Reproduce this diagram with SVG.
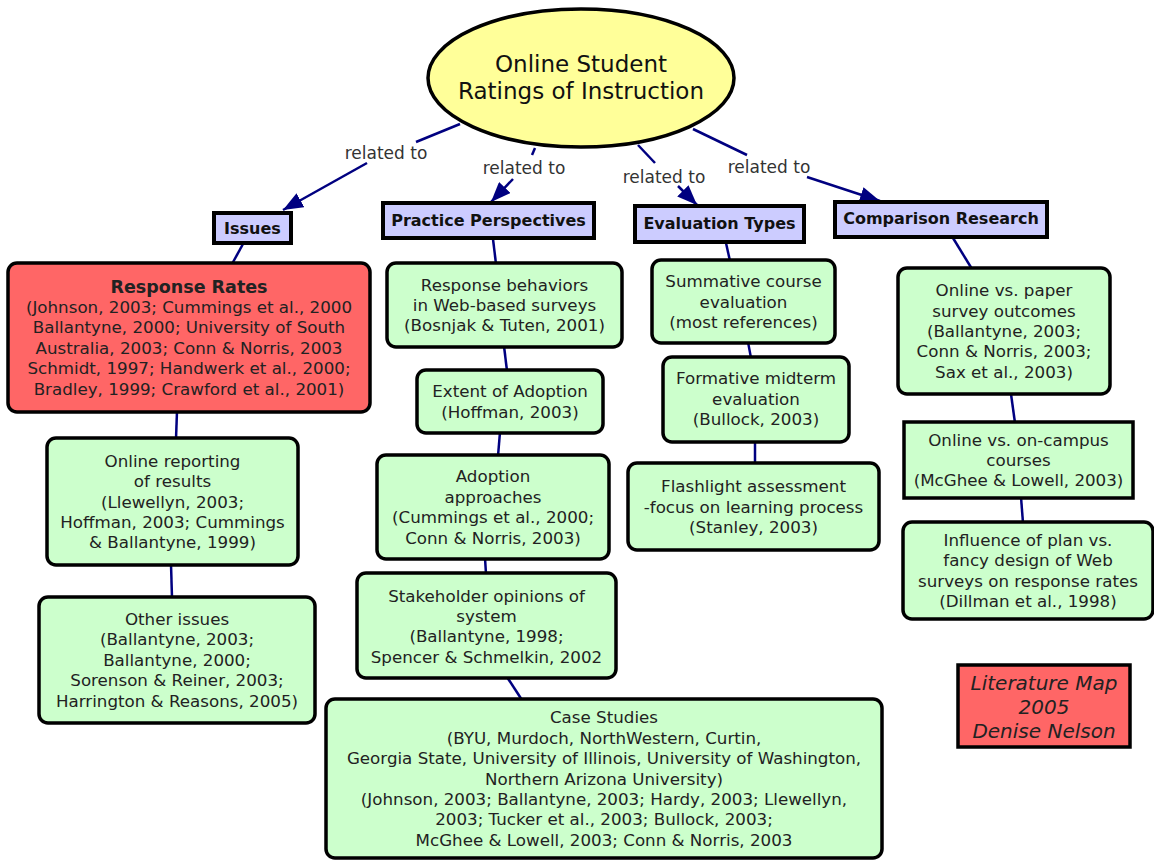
<svg xmlns="http://www.w3.org/2000/svg" width="1154" height="861" viewBox="0 0 1154 861">
<style>
text{font-family:"DejaVu Sans",Verdana,sans-serif;fill:#222;text-anchor:middle}
.t{font-size:16.7px}
.lbl{font-size:17px;fill:#333}
.hd{font-size:16px;font-weight:bold;fill:#111}
.ttl{font-size:23px;fill:#111}
.rrh{font-size:17.5px;font-weight:bold}
.lit{font-size:20px;font-style:italic}
.cn{stroke:#000080;stroke-width:2.5;fill:none}
.g{fill:#ccffcc;stroke:#000;stroke-width:3.5}
.r{fill:#ff6666;stroke:#000;stroke-width:3.5}
.b{fill:#ccccff;stroke:#000;stroke-width:4}
</style>
<defs>
<marker id="ah" markerUnits="userSpaceOnUse" markerWidth="20" markerHeight="16" refX="20" refY="8" orient="auto">
<path d="M0,0 L20,8 L0,16 z" fill="#000080"/>
</marker>
</defs>
<rect width="1154" height="861" fill="#fff"/>
<g id="connectors">
<line class="cn" x1="460" y1="124" x2="416" y2="142"/>
<line class="cn" x1="367" y1="163" x2="283" y2="210" marker-end="url(#ah)"/>
<text class="lbl" x="386" y="159">related to</text>
<line class="cn" x1="535" y1="148" x2="532" y2="155"/>
<line class="cn" x1="513" y1="179" x2="491" y2="202" marker-end="url(#ah)"/>
<text class="lbl" x="524" y="174">related to</text>
<line class="cn" x1="638" y1="145" x2="655" y2="163"/>
<line class="cn" x1="678" y1="186" x2="697" y2="205" marker-end="url(#ah)"/>
<text class="lbl" x="664" y="183">related to</text>
<line class="cn" x1="693" y1="129" x2="747" y2="155"/>
<line class="cn" x1="807" y1="177" x2="880" y2="201" marker-end="url(#ah)"/>
<text class="lbl" x="769" y="173">related to</text>
<line class="cn" x1="243" y1="244" x2="232" y2="264"/>
<line class="cn" x1="493" y1="239" x2="496" y2="264"/>
<line class="cn" x1="726" y1="243" x2="730" y2="261"/>
<line class="cn" x1="953" y1="238" x2="972" y2="269"/>
<line class="cn" x1="177" y1="411" x2="176" y2="439"/>
<line class="cn" x1="171" y1="564" x2="172" y2="598"/>
<line class="cn" x1="504" y1="346" x2="507" y2="371"/>
<line class="cn" x1="500" y1="432" x2="498" y2="456"/>
<line class="cn" x1="485" y1="558" x2="486" y2="574"/>
<line class="cn" x1="507" y1="677" x2="522" y2="700"/>
<line class="cn" x1="748" y1="342" x2="751" y2="358"/>
<line class="cn" x1="755" y1="441" x2="755" y2="464"/>
<line class="cn" x1="1011" y1="394" x2="1015" y2="423"/>
<line class="cn" x1="1021" y1="497" x2="1023" y2="523"/>
</g>
<g id="n-root">
<ellipse cx="581" cy="78" rx="153" ry="69" fill="#ffff99" stroke="#000" stroke-width="3.5"/>
<text class="ttl" x="581" y="71.5">Online Student</text>
<text class="ttl" x="581" y="98.5">Ratings of Instruction</text>
</g>
<g id="n-issues">
<rect class="b" x="214" y="213" width="77" height="30"/>
<text class="hd" x="252.5" y="234">Issues</text>
</g>
<g id="n-practice">
<rect class="b" x="383" y="203" width="211" height="35"/>
<text class="hd" x="488.5" y="226">Practice Perspectives</text>
</g>
<g id="n-evaluation">
<rect class="b" x="635" y="206" width="169" height="36"/>
<text class="hd" x="719.5" y="229">Evaluation Types</text>
</g>
<g id="n-comparison">
<rect class="b" x="835" y="202" width="212" height="35"/>
<text class="hd" x="941" y="224">Comparison Research</text>
</g>
<g id="n-response-rates">
<rect class="r" x="8" y="263" width="362" height="149" rx="9"/>
<text class="rrh" x="189" y="292.5">Response Rates</text>
<text class="t" x="189" y="312.9">(Johnson, 2003; Cummings et al., 2000</text>
<text class="t" x="189" y="333.3">Ballantyne, 2000; University of South</text>
<text class="t" x="189" y="353.7">Australia, 2003; Conn &amp; Norris, 2003</text>
<text class="t" x="189" y="374.1">Schmidt, 1997; Handwerk et al., 2000;</text>
<text class="t" x="189" y="394.5">Bradley, 1999; Crawford et al., 2001)</text>
</g>
<g id="n-online-reporting">
<rect class="g" x="47" y="438" width="251" height="127" rx="9"/>
<text class="t" x="172.5" y="466.7">Online reporting</text>
<text class="t" x="172.5" y="487.1">of results</text>
<text class="t" x="172.5" y="507.5">(Llewellyn, 2003;</text>
<text class="t" x="172.5" y="527.9">Hoffman, 2003; Cummings</text>
<text class="t" x="172.5" y="548.3">&amp; Ballantyne, 1999)</text>
</g>
<g id="n-other-issues">
<rect class="g" x="39" y="597" width="276" height="126" rx="9"/>
<text class="t" x="177" y="625">Other issues</text>
<text class="t" x="177" y="645.4">(Ballantyne, 2003;</text>
<text class="t" x="177" y="665.8">Ballantyne, 2000;</text>
<text class="t" x="177" y="686.2">Sorenson &amp; Reiner, 2003;</text>
<text class="t" x="177" y="706.6">Harrington &amp; Reasons, 2005)</text>
</g>
<g id="n-response-behaviors">
<rect class="g" x="387" y="263" width="235" height="84" rx="9"/>
<text class="t" x="504.5" y="290.6">Response behaviors</text>
<text class="t" x="504.5" y="311">in Web-based surveys</text>
<text class="t" x="504.5" y="331.4">(Bosnjak &amp; Tuten, 2001)</text>
</g>
<g id="n-extent">
<rect class="g" x="417" y="370" width="186" height="63" rx="9"/>
<text class="t" x="510" y="397.3">Extent of Adoption</text>
<text class="t" x="510" y="417.7">(Hoffman, 2003)</text>
</g>
<g id="n-adoption">
<rect class="g" x="377" y="455" width="232" height="104" rx="9"/>
<text class="t" x="493" y="482.4">Adoption</text>
<text class="t" x="493" y="502.8">approaches</text>
<text class="t" x="493" y="523.2">(Cummings et al., 2000;</text>
<text class="t" x="493" y="543.6">Conn &amp; Norris, 2003)</text>
</g>
<g id="n-stakeholder">
<rect class="g" x="357" y="573" width="259" height="105" rx="9"/>
<text class="t" x="486.5" y="601.5">Stakeholder opinions of</text>
<text class="t" x="486.5" y="621.9">system</text>
<text class="t" x="486.5" y="642.3">(Ballantyne, 1998;</text>
<text class="t" x="486.5" y="662.7">Spencer &amp; Schmelkin, 2002</text>
</g>
<g id="n-case-studies">
<rect class="g" x="326" y="699" width="556" height="159" rx="9"/>
<text class="t" x="604" y="723.3">Case Studies</text>
<text class="t" x="604" y="743.7">(BYU, Murdoch, NorthWestern, Curtin,</text>
<text class="t" x="604" y="764.1">Georgia State, University of Illinois, University of Washington,</text>
<text class="t" x="604" y="784.5">Northern Arizona University)</text>
<text class="t" x="604" y="804.9">(Johnson, 2003; Ballantyne, 2003; Hardy, 2003; Llewellyn,</text>
<text class="t" x="604" y="825.3">2003; Tucker et al., 2003; Bullock, 2003;</text>
<text class="t" x="604" y="845.7">McGhee &amp; Lowell, 2003; Conn &amp; Norris, 2003</text>
</g>
<g id="n-summative">
<rect class="g" x="652" y="260" width="183" height="83" rx="9"/>
<text class="t" x="743.5" y="287.1">Summative course</text>
<text class="t" x="743.5" y="307.5">evaluation</text>
<text class="t" x="743.5" y="327.9">(most references)</text>
</g>
<g id="n-formative">
<rect class="g" x="663" y="357" width="186" height="85" rx="9"/>
<text class="t" x="756" y="384.1">Formative midterm</text>
<text class="t" x="756" y="404.5">evaluation</text>
<text class="t" x="756" y="424.9">(Bullock, 2003)</text>
</g>
<g id="n-flashlight">
<rect class="g" x="628" y="463" width="251" height="87" rx="9"/>
<text class="t" x="753.5" y="492.1">Flashlight assessment</text>
<text class="t" x="753.5" y="512.5">-focus on learning process</text>
<text class="t" x="753.5" y="532.9">(Stanley, 2003)</text>
</g>
<g id="n-online-paper">
<rect class="g" x="898" y="268" width="212" height="126" rx="9"/>
<text class="t" x="1004" y="296.2">Online vs. paper</text>
<text class="t" x="1004" y="316.6">survey outcomes</text>
<text class="t" x="1004" y="337">(Ballantyne, 2003;</text>
<text class="t" x="1004" y="357.4">Conn &amp; Norris, 2003;</text>
<text class="t" x="1004" y="377.8">Sax et al., 2003)</text>
</g>
<g id="n-online-campus">
<rect class="g" x="904" y="422" width="229" height="76"/>
<text class="t" x="1018.5" y="445.6">Online vs. on-campus</text>
<text class="t" x="1018.5" y="466">courses</text>
<text class="t" x="1018.5" y="486.4">(McGhee &amp; Lowell, 2003)</text>
</g>
<g id="n-influence">
<rect class="g" x="903" y="522" width="250" height="97" rx="9"/>
<text class="t" x="1028" y="546">Influence of plan vs.</text>
<text class="t" x="1028" y="566.4">fancy design of Web</text>
<text class="t" x="1028" y="586.8">surveys on response rates</text>
<text class="t" x="1028" y="607.2">(Dillman et al., 1998)</text>
</g>
<g id="n-literature-map">
<rect class="r" x="958" y="665" width="172" height="82"/>
<text class="lit" x="1044" y="690">Literature Map</text>
<text class="lit" x="1044" y="714">2005</text>
<text class="lit" x="1044" y="738">Denise Nelson</text>
</g>
</svg>
